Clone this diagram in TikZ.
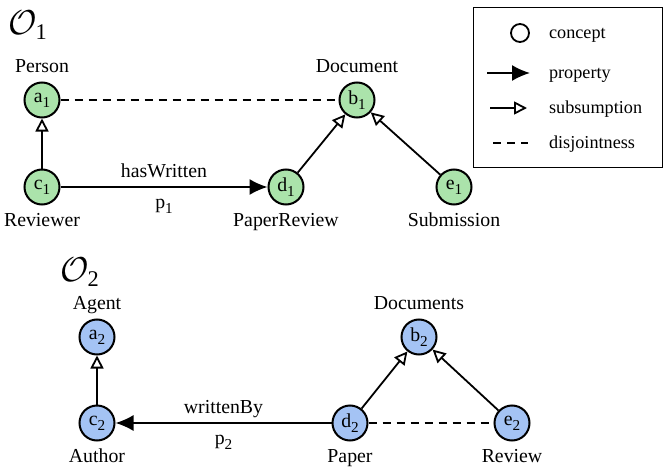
\documentclass[tikz,border=0pt]{standalone}
\usepackage{amsmath}
\usepackage{fontspec}
\setmainfont{Liberation Serif}
\usetikzlibrary{arrows.meta}
\definecolor{cgreen}{RGB}{171,227,171}
\definecolor{cblue}{RGB}{164,195,244}
\newcommand{\subtx}[2]{#1\raisebox{-2.4pt}{\fontsize{7.6}{8}\selectfont #2}}
\begin{document}
\begin{tikzpicture}[x=0.5pt,y=-0.5pt,
  font=\fontsize{9.9}{12}\selectfont,
  concept/.style={circle,draw,line width=1pt,minimum size=17.5pt,inner sep=0pt},
  gc/.style={concept,fill=cgreen},
  bc/.style={concept,fill=cblue},
  lab/.style={text height=1.5ex,text depth=.25ex},
  legtext/.style={lab,anchor=west,font=\fontsize{9.1}{11}\selectfont},
  prop/.style={line width=0.9pt,-{Latex[length=9pt,width=8pt]}},
  subs/.style={line width=0.9pt,-{Triangle[open,length=6.5pt,width=6.5pt,line width=0.9pt]}},
  disj/.style={line width=0.9pt,dash pattern=on 4pt off 3pt},
  ont/.style={font=\fontsize{16}{18}\selectfont,inner sep=0pt}]
\useasboundingbox (0,0) rectangle (670,471);

% Ontology 1
\node[ont] (o1) at (28,25) {$\mathcal{O}_{\text{1}}$};
\node[gc,label={[lab]above:Person}] (a1) at (42,100) {\subtx{a}{1}};
\node[gc,label={[lab]below:Reviewer}] (c1) at (42,187) {\subtx{c}{1}};
\node[gc,label={[lab]below:PaperReview}] (d1) at (286,187) {\subtx{d}{1}};
\node[gc,label={[lab]above:Document}] (b1) at (357,100) {\subtx{b}{1}};
\node[gc,label={[lab]below:Submission}] (e1) at (454,187) {\subtx{e}{1}};

\draw[disj] (a1) -- (b1);
\draw[subs] (c1) -- (a1);
\draw[prop] (c1) -- node[lab,above] (l1a) {hasWritten} node[lab,below] (l1b) {\subtx{p}{1}} (d1);
\draw[subs] (d1) -- (b1);
\draw[subs] (e1) -- (b1);

% Ontology 2
\node[ont] (o2) at (80,272) {$\mathcal{O}_{\text{2}}$};
\node[bc,label={[lab]above:Agent}] (a2) at (97,337) {\subtx{a}{2}};
\node[bc,label={[lab]below:Author}] (c2) at (97,423) {\subtx{c}{2}};
\node[bc,label={[lab]below:Paper}] (d2) at (350,423) {\subtx{d}{2}};
\node[bc,label={[lab]above:Documents}] (b2) at (419,337) {\subtx{b}{2}};
\node[bc,label={[lab]below:Review}] (e2) at (512,423) {\subtx{e}{2}};

\draw[subs] (c2) -- (a2);
\draw[prop] (d2) -- node[lab,above] (l2a) {writtenBy} node[lab,below] (l2b) {\subtx{p}{2}} (c2);
\draw[subs] (d2) -- (b2);
\draw[subs] (e2) -- (b2);
\draw[disj] (d2) -- (e2);

% Legend
\draw[line width=0.5pt] (473,7) rectangle (662,167);
\node[circle,draw,line width=0.9pt,minimum size=9pt,inner sep=0pt] (lc) at (520,33) {};
\node[legtext] (lt1) at (542,33) {concept};
\coordinate (lp0) at (487,73);
\coordinate (lp1) at (530,73);
\draw[prop] (lp0) -- (lp1);
\node[legtext] (lt2) at (542,73) {property};
\coordinate (ls0) at (490,108);
\coordinate (ls1) at (527,108);
\draw[subs] (ls0) -- (ls1);
\node[legtext] (lt3) at (542,108) {subsumption};
\coordinate (ld0) at (493,143);
\coordinate (ld1) at (528,143);
\draw[disj] (ld0) -- (ld1);
\node[legtext] (lt4) at (542,143) {disjointness};
\end{tikzpicture}
\end{document}
